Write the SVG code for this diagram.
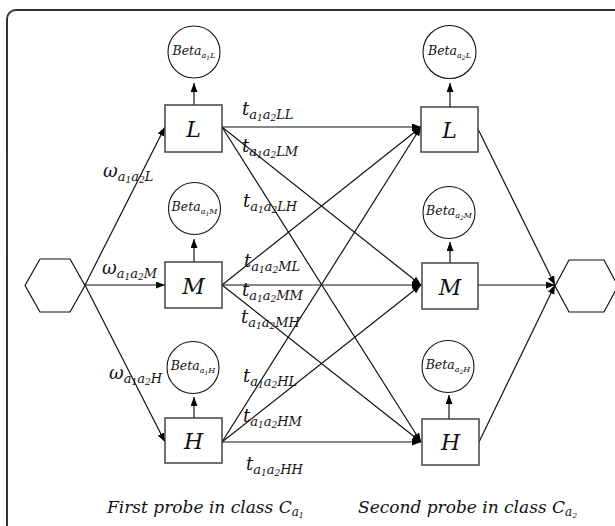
<svg xmlns="http://www.w3.org/2000/svg" width="615" height="526" viewBox="0 0 615 526">
<style>
.frame{fill:#fff;stroke:#333;stroke-width:2}
.box{fill:#fff;stroke:#444;stroke-width:1.5}
.hex{fill:#fff;stroke:#111;stroke-width:1.2}
.beta{fill:#fff;stroke:#111;stroke-width:1.1}
.ln{fill:none;stroke:#111;stroke-width:1.2;marker-end:url(#ah)}
.lab{font-family:"DejaVu Serif","Liberation Serif",serif;font-style:italic;fill:#111}
.t{font-size:18px}
.s{font-size:13px}
.ss{font-size:9px}
.big{font-size:22px}
.bt{font-size:12.5px}
.bs{font-size:8px}
.bss{font-size:6px}
.cap{font-size:17px}
.cs{font-size:12px}
.css{font-size:8px}
</style>
<defs>
<marker id="ah" markerUnits="userSpaceOnUse" markerWidth="10" markerHeight="8" refX="9" refY="3.5" orient="auto">
<path d="M0,0 L9,3.5 L0,7 z" fill="#000"/>
</marker>
</defs>
<rect class="frame" x="7" y="10" width="630" height="540" rx="9"/>

<g id="connectors">
<line class="ln" x1="85" y1="285" x2="165" y2="127"/>
<line class="ln" x1="85" y1="285" x2="165" y2="285"/>
<line class="ln" x1="85" y1="285" x2="165" y2="442"/>
<line class="ln" x1="222" y1="127" x2="421" y2="127"/>
<line class="ln" x1="222" y1="127" x2="421" y2="285"/>
<line class="ln" x1="222" y1="127" x2="421" y2="442"/>
<line class="ln" x1="222" y1="285" x2="421" y2="127"/>
<line class="ln" x1="222" y1="285" x2="421" y2="285"/>
<line class="ln" x1="222" y1="285" x2="421" y2="442"/>
<line class="ln" x1="222" y1="442" x2="421" y2="127"/>
<line class="ln" x1="222" y1="442" x2="421" y2="285"/>
<line class="ln" x1="222" y1="442" x2="421" y2="442"/>
<line class="ln" x1="478" y1="129" x2="555" y2="285"/>
<line class="ln" x1="478" y1="285" x2="555" y2="285"/>
<line class="ln" x1="479" y1="442" x2="555" y2="285"/>
<line class="ln" x1="194" y1="105" x2="194" y2="83"/>
<line class="ln" x1="194" y1="262" x2="194" y2="239"/>
<line class="ln" x1="194" y1="418" x2="194" y2="397"/>
<line class="ln" x1="450" y1="107" x2="450" y2="83"/>
<line class="ln" x1="450" y1="263" x2="450" y2="242"/>
<line class="ln" x1="449" y1="419" x2="449" y2="395"/>
</g>

<g id="start">
<polygon class="hex" points="25,285.5 40,259 70,259 85,285.5 70,312 40,312"/>
</g>
<g id="end">
<polygon class="hex" points="555,286 569,260 604,260 618,286 604,312 569,312"/>
</g>

<g id="L1"><rect class="box" x="165" y="105" width="57" height="47"/><text class="lab big" x="193.5" y="137" text-anchor="middle">L</text></g>
<g id="M1"><rect class="box" x="165" y="262" width="57" height="46"/><text class="lab big" x="193.5" y="294" text-anchor="middle">M</text></g>
<g id="H1"><rect class="box" x="165" y="418" width="57" height="45"/><text class="lab big" x="193.5" y="449" text-anchor="middle">H</text></g>
<g id="L2"><rect class="box" x="421" y="107" width="57" height="45"/><text class="lab big" x="449.5" y="138" text-anchor="middle">L</text></g>
<g id="M2"><rect class="box" x="422" y="263" width="56" height="46"/><text class="lab big" x="450" y="295" text-anchor="middle">M</text></g>
<g id="H2"><rect class="box" x="422" y="419" width="57" height="46"/><text class="lab big" x="450.5" y="450" text-anchor="middle">H</text></g>

<g id="BetaA1L"><circle class="beta" cx="194" cy="52" r="26"/><text class="lab bt" x="194" y="55" text-anchor="middle">Beta<tspan class="bs" dy="3">a</tspan><tspan class="bss" dy="1.5">1</tspan><tspan class="bs" dy="-1.5">L</tspan></text></g>
<g id="BetaA1M"><circle class="beta" cx="194.5" cy="208.5" r="26"/><text class="lab bt" x="194.5" y="211" text-anchor="middle">Beta<tspan class="bs" dy="3">a</tspan><tspan class="bss" dy="1.5">1</tspan><tspan class="bs" dy="-1.5">M</tspan></text></g>
<g id="BetaA1H"><circle class="beta" cx="193" cy="367.5" r="26"/><text class="lab bt" x="193" y="370" text-anchor="middle">Beta<tspan class="bs" dy="3">a</tspan><tspan class="bss" dy="1.5">1</tspan><tspan class="bs" dy="-1.5">H</tspan></text></g>
<g id="BetaA2L"><circle class="beta" cx="449.5" cy="52" r="26.5"/><text class="lab bt" x="449.5" y="55" text-anchor="middle">Beta<tspan class="bs" dy="3">a</tspan><tspan class="bss" dy="1.5">2</tspan><tspan class="bs" dy="-1.5">L</tspan></text></g>
<g id="BetaA2M"><circle class="beta" cx="449" cy="212.5" r="26"/><text class="lab bt" x="449" y="215" text-anchor="middle">Beta<tspan class="bs" dy="3">a</tspan><tspan class="bss" dy="1.5">2</tspan><tspan class="bs" dy="-1.5">M</tspan></text></g>
<g id="BetaA2H"><circle class="beta" cx="448" cy="366.5" r="26"/><text class="lab bt" x="448" y="369" text-anchor="middle">Beta<tspan class="bs" dy="3">a</tspan><tspan class="bss" dy="1.5">2</tspan><tspan class="bs" dy="-1.5">H</tspan></text></g>

<g id="labels">
<text class="lab t" x="103" y="177">ω<tspan class="s" dy="4">a</tspan><tspan class="ss" dy="2">1</tspan><tspan class="s" dy="-2">a</tspan><tspan class="ss" dy="2">2</tspan><tspan class="s" dy="-2">L</tspan></text>
<text class="lab t" x="102" y="274">ω<tspan class="s" dy="4">a</tspan><tspan class="ss" dy="2">1</tspan><tspan class="s" dy="-2">a</tspan><tspan class="ss" dy="2">2</tspan><tspan class="s" dy="-2">M</tspan></text>
<text class="lab t" x="109" y="379">ω<tspan class="s" dy="4">a</tspan><tspan class="ss" dy="2">1</tspan><tspan class="s" dy="-2">a</tspan><tspan class="ss" dy="2">2</tspan><tspan class="s" dy="-2">H</tspan></text>

<text class="lab t" x="242" y="115">t<tspan class="s" dy="4">a</tspan><tspan class="ss" dy="2">1</tspan><tspan class="s" dy="-2">a</tspan><tspan class="ss" dy="2">2</tspan><tspan class="s" dy="-2">LL</tspan></text>
<text class="lab t" x="242" y="152">t<tspan class="s" dy="4">a</tspan><tspan class="ss" dy="2">1</tspan><tspan class="s" dy="-2">a</tspan><tspan class="ss" dy="2">2</tspan><tspan class="s" dy="-2">LM</tspan></text>
<text class="lab t" x="243" y="207">t<tspan class="s" dy="4">a</tspan><tspan class="ss" dy="2">1</tspan><tspan class="s" dy="-2">a</tspan><tspan class="ss" dy="2">2</tspan><tspan class="s" dy="-2">LH</tspan></text>
<text class="lab t" x="244" y="267">t<tspan class="s" dy="4">a</tspan><tspan class="ss" dy="2">1</tspan><tspan class="s" dy="-2">a</tspan><tspan class="ss" dy="2">2</tspan><tspan class="s" dy="-2">ML</tspan></text>
<text class="lab t" x="242" y="296">t<tspan class="s" dy="4">a</tspan><tspan class="ss" dy="2">1</tspan><tspan class="s" dy="-2">a</tspan><tspan class="ss" dy="2">2</tspan><tspan class="s" dy="-2">MM</tspan></text>
<text class="lab t" x="241" y="323">t<tspan class="s" dy="4">a</tspan><tspan class="ss" dy="2">1</tspan><tspan class="s" dy="-2">a</tspan><tspan class="ss" dy="2">2</tspan><tspan class="s" dy="-2">MH</tspan></text>
<text class="lab t" x="243" y="382">t<tspan class="s" dy="4">a</tspan><tspan class="ss" dy="2">1</tspan><tspan class="s" dy="-2">a</tspan><tspan class="ss" dy="2">2</tspan><tspan class="s" dy="-2">HL</tspan></text>
<text class="lab t" x="243" y="422">t<tspan class="s" dy="4">a</tspan><tspan class="ss" dy="2">1</tspan><tspan class="s" dy="-2">a</tspan><tspan class="ss" dy="2">2</tspan><tspan class="s" dy="-2">HM</tspan></text>
<text class="lab t" x="246" y="470">t<tspan class="s" dy="4">a</tspan><tspan class="ss" dy="2">1</tspan><tspan class="s" dy="-2">a</tspan><tspan class="ss" dy="2">2</tspan><tspan class="s" dy="-2">HH</tspan></text>

<text class="lab cap" x="107" y="513">First probe in class C<tspan class="cs" dy="3">a</tspan><tspan class="css" dy="1.5">1</tspan></text>
<text class="lab cap" x="358" y="513">Second probe in class C<tspan class="cs" dy="3">a</tspan><tspan class="css" dy="1.5">2</tspan></text>
</g>
</svg>
